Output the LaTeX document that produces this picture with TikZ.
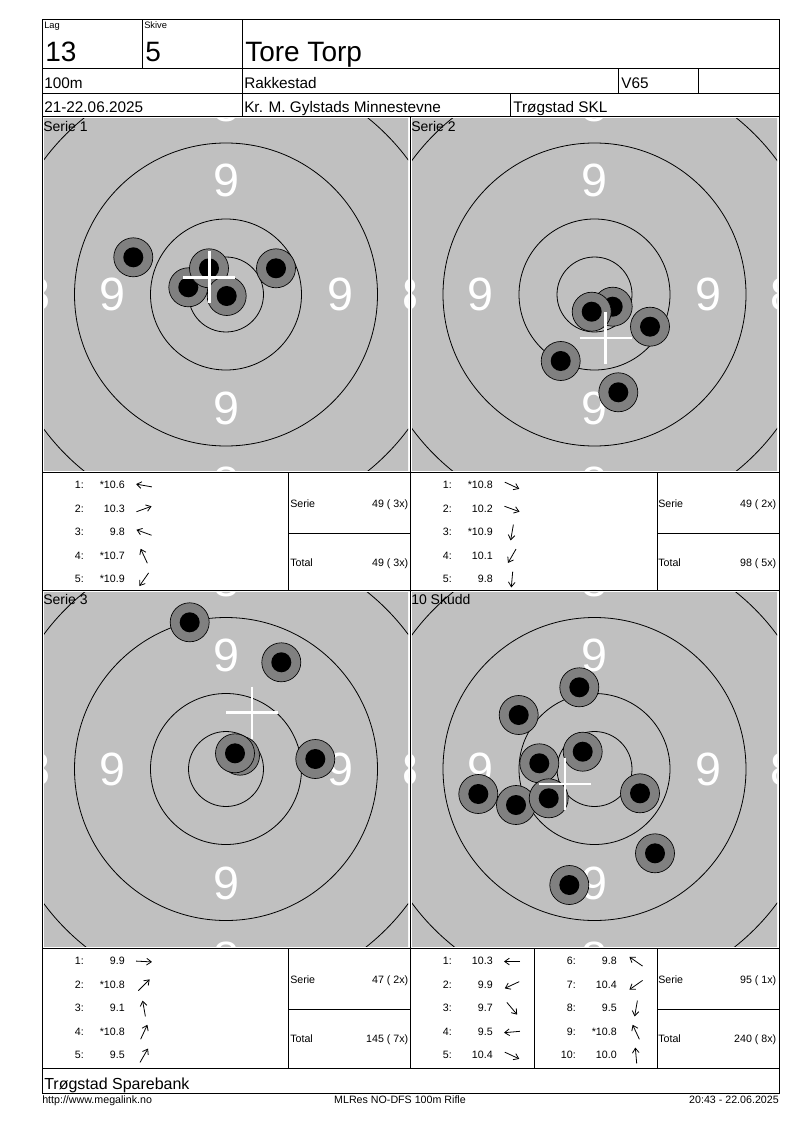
\documentclass[tikz,border=0pt]{standalone}
\usepackage{fontspec}
\setmainfont{Liberation Sans}
\usepackage{tikz}
\usetikzlibrary{arrows.meta, calc}
\tikzstyle{myarrow} = [line width=0.6pt,-{Straight Barb[length=3.5pt,width=5pt]}]
\definecolor{targetgray}{RGB}{192,192,192}
\definecolor{holegray}{RGB}{128,128,128}

% one target panel: name, left, top, right, bottom, title
\newcommand{\skive}[6]{%
  \begin{scope}
    \clip (#2+2,#3+2) rectangle (#4-2,#5-2);
    \fill[targetgray] (#2,#3) rectangle (#4,#5);
    \coordinate (#1) at ({(#2+#4)/2},{(#3+#5)/2});
    \foreach \r in {37.5,75.5,151.5,226.5}
      \draw[myring] (#1) circle (\r);
    \foreach \a in {0,90,180,270} {
      \node[mynine] (#1n\a) at ($(#1)+(\a:114)$) {9};
      \node[mynine] (#1e\a) at ($(#1)+(\a:189)$) {8};
    }
  \end{scope}
  \node[mypanel] (#1t) at (#2+1,#3+14.5) {#6};
}

% shot list: name, left, top, rows
\newcommand{\skudd}[4]{%
  \foreach \i/\v/\a in {#4} {
    \pgfmathsetmacro{\yb}{#3+16.5+mod(\i-1,5)*23.5}
    \pgfmathsetmacro{\xo}{#2+(\i>5)*124}
    \node[mytab, anchor=base east] (#1i\i) at (\xo+42,\yb) {\i:};
    \node[mytab, anchor=base east] (#1v\i) at (\xo+83,\yb) {\v};
    \draw[myarrow] (\xo+102,\yb-3) ++({180-\a}:8) -- ++({-\a}:16);
  }
}

% serie and total: name, left, top, serie, total
\newcommand{\resultat}[5]{%
  \node[mytab, anchor=base west] (#1s) at (#2+248,#3+35) {Serie};
  \node[mytab, anchor=base east] (#1sv) at (#2+366.5,#3+35) {#4};
  \node[mytab, anchor=base west] (#1t) at (#2+248,#3+94.5) {Total};
  \node[mytab, anchor=base east] (#1tv) at (#2+366.5,#3+94.5) {#5};
}

\begin{document}
\begin{tikzpicture}[
    x=0.75pt, y=-0.75pt,
    myrule/.style={line width=0.75pt},
    myring/.style={line width=0.6pt},
    mynine/.style={font=\fontsize{35}{35}\selectfont, text=white, inner sep=0pt},
    mypanel/.style={font=\fontsize{10.5}{12}\selectfont, anchor=base west, inner sep=0pt},
    mysmall/.style={font=\fontsize{7}{8}\selectfont, anchor=base west, inner sep=0pt},
    mybig/.style={font=\fontsize{21}{24}\selectfont, anchor=base west, inner sep=0pt},
    myrow/.style={font=\fontsize{11.5}{13}\selectfont, anchor=base west, inner sep=0pt},
    mytab/.style={font=\fontsize{8}{9}\selectfont, inner sep=0pt},
    myfoot/.style={font=\fontsize{8}{9}\selectfont, inner sep=0pt},
    myhole/.style={circle, draw, line width=0.5pt, fill=holegray, minimum size=29.25pt,
      inner sep=0pt, path picture={\fill[black] (path picture bounding box.center) circle (7.5pt);}},
    mycross/.style={white, line width=2pt}
]
\fill[white] (0,0) rectangle (800,1130);
\useasboundingbox (0,0) rectangle (800,1130);

% Targets
\skive{s1}{42}{117}{410}{472}{Serie 1}
\skive{s2}{410}{117}{779}{472}{Serie 2}
\skive{s3}{42}{590}{410}{948}{Serie 3}
\skive{s4}{410}{590}{779}{948}{10 Skudd}

% Holes
\node[myhole] (s1h1) at (188.3,287.3) {};
\node[myhole] (s1h2) at (276,268.3) {};
\node[myhole] (s1h3) at (133.3,257.3) {};
\node[myhole] (s1h4) at (209,268.3) {};
\node[myhole] (s1h5) at (226.7,296) {};
\node[myhole] (s2h1) at (612.7,306.7) {};
\node[myhole] (s2h2) at (650,326.7) {};
\node[myhole] (s2h3) at (591.7,311.7) {};
\node[myhole] (s2h4) at (560.7,361) {};
\node[myhole] (s2h5) at (618.3,392.3) {};
\node[myhole] (s3h1) at (315.3,759) {};
\node[myhole] (s3h2) at (240,755.7) {};
\node[myhole] (s3h3) at (189.7,622.3) {};
\node[myhole] (s3h4) at (235,753.3) {};
\node[myhole] (s3h5) at (281.3,662.3) {};
\node[myhole] (s4h1) at (579.3,687.3) {};
\node[myhole] (s4h2) at (518.7,715) {};
\node[myhole] (s4h3) at (478.3,794) {};
\node[myhole] (s4h4) at (516,805) {};
\node[myhole] (s4h5) at (539.3,763.3) {};
\node[myhole] (s4h6) at (548.7,798.3) {};
\node[myhole] (s4h7) at (582.7,751.7) {};
\node[myhole] (s4h8) at (640,793.3) {};
\node[myhole] (s4h9) at (655,853.3) {};
\node[myhole] (s4h10) at (569.3,885) {};

% Mean point crosses
\coordinate (s1m) at (209.3,277.5);
\coordinate (s2m) at (605.7,338);
\coordinate (s3m) at (252,712.5);
\coordinate (s4m) at (565,784);
\foreach \m in {s1m,s2m,s3m,s4m}
  \draw[mycross] (\m) ++(-26,0) -- ++(52,0) (\m) ++(0,-26) -- ++(0,52);

% Nodes
\node[mysmall] (lag) at (44,29) {Lag};
\node[mysmall] (skive) at (144,29) {Skive};
\node[mybig] (lagnr) at (45,61.5) {13};
\node[mybig] (skivenr) at (145,61.5) {5};
\node[mybig] (navn) at (245,61.5) {Tore Torp};
\node[myrow] (dist) at (44,89) {100m};
\node[myrow] (sted) at (244,89) {Rakkestad};
\node[myrow] (klasse) at (621,89) {V65};
\node[myrow] (dato) at (44,112.5) {21-22.06.2025};
\node[myrow] (stevne) at (244,112.5) {Kr. M. Gylstads Minnestevne};
\node[myrow] (klubb) at (513,112.5) {Trøgstad SKL};

\skudd{t1}{42}{472}{1/*10.6/170, 2/10.3/20, 3/9.8/160, 4/*10.7/115, 5/*10.9/235}
\skudd{t2}{410}{472}{1/*10.8/335, 2/10.2/340, 3/*10.9/260, 4/10.1/240, 5/9.8/265}
\skudd{t3}{42}{948}{1/9.9/357, 2/*10.8/45, 3/9.1/100, 4/*10.8/65, 5/9.5/60}
\skudd{t4}{410}{948}{1/10.3/180, 2/9.9/205, 3/9.7/310, 4/9.5/185, 5/10.4/335,
  6/9.8/145, 7/10.4/215, 8/9.5/260, 9/*10.8/115, 10/10.0/95}
\resultat{r1}{42}{472}{49 ( 3x)}{49 ( 3x)}
\resultat{r2}{410}{472}{49 ( 2x)}{98 ( 5x)}
\resultat{r3}{42}{948}{47 ( 2x)}{145 ( 7x)}
\resultat{r4}{410}{948}{95 ( 1x)}{240 ( 8x)}

\node[myrow, font=\fontsize{12}{14}\selectfont] (sponsor) at (44,1089) {Trøgstad Sparebank};
\node[myfoot, anchor=base west] (url) at (42,1103) {http://www.megalink.no};
\node[myfoot, anchor=base] (prog) at (400,1103) {MLRes NO-DFS 100m Rifle};
\node[myfoot, anchor=base east] (tid) at (779,1103) {20:43 - 22.06.2025};

% Paths
\draw[myrule] (42,20) rectangle (779,1093);
\draw[myrule] (42,69) -- (779,69) (42,94) -- (779,94) (42,117) -- (779,117);
\draw[myrule] (142,20) -- (142,69) (242,20) -- (242,117) (510,94) -- (510,117)
  (618,69) -- (618,94) (698,69) -- (698,94);
\draw[myrule] (410,117) -- (410,1068);
\foreach \y in {472,590,948,1068} \draw[myrule] (42,\y) -- (779,\y);
\draw[myrule] (288,472) -- (288,590) (657,472) -- (657,590)
  (288,533) -- (410,533) (657,533) -- (779,533);
\draw[myrule] (288,948) -- (288,1068) (657,948) -- (657,1068) (534,948) -- (534,1068)
  (288,1009) -- (410,1009) (657,1009) -- (779,1009);

\end{tikzpicture}
\end{document}
